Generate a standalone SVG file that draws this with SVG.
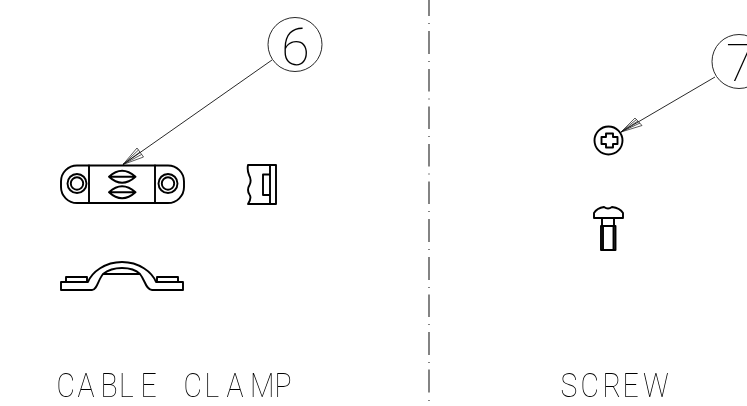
<svg xmlns="http://www.w3.org/2000/svg" width="747" height="406" viewBox="0 0 747 406">
<defs><filter id="gray" x="-5%" y="-20%" width="110%" height="140%" color-interpolation-filters="sRGB"><feOffset dx="0" dy="0"/></filter></defs>
<style>
.k{fill:none;stroke:#000;stroke-width:1.9;stroke-linejoin:round;stroke-linecap:round}
.t{fill:none;stroke:#111;stroke-width:.9}
.f{fill:none;stroke:#111;stroke-width:.7}
.d{fill:none;stroke:#333;stroke-width:1.2}
.l{font-family:Roboto,"Liberation Sans",sans-serif;font-weight:100;font-size:33.500px;fill:#000}
.n{font-family:Roboto,"Liberation Sans",sans-serif;font-weight:100;font-size:52px;fill:#000}
</style>
<rect width="747" height="406" fill="#fff"/>
<g id="connectors">
<path class="t" d="M272 60L123 164.500M715 77L621 132"/>
<path class="f" d="M123 164.500L137 148M123 164.500L138.500 150M123 164.500L140 152M123 164.500L141.500 154.500M123 164.500L143.500 157M621 132L635 118M621 132L636.500 119.500M621 132L638 121M621 132L640 123M621 132L642 125.500M137 148L143.500 157M635 118L642 125.500"/>
<path id="divider" class="d" d="M429 0V16M429 23V24M429 31V54M429 61V62M429 69V91.500M429 98.500V99.500M429 106.500V129M429 136V137M429 144V166.500M429 173.500V174.500M429 181.500V204M429 211V212M429 219V242M429 249V250M429 257V280M429 287V288M429 294.500V317M429 324V325M429 332V355M429 362V363M429 369.500V392.500M429 400V401"/>
</g>
<g id="clamp-top">
<rect class="k" x="61" y="165.500" width="123" height="37.500" rx="16"/>
<path class="k" d="M89 165.500V203M155 165.500V203"/>
<circle class="k" cx="77" cy="183.500" r="9.500"/><circle class="k" cx="77" cy="183.500" r="6.200"/>
<circle class="k" cx="168" cy="183.500" r="9.500"/><circle class="k" cx="168" cy="183.500" r="6.200"/>
<path class="k" d="M109 176.700Q122 164.700 135.500 176.700Q122 188.700 109 176.700ZM109 176.700H135.500M109 192.300Q122 180.300 135.500 192.300Q122 204.300 109 192.300ZM109 192.300H135.500"/>
</g>
<g id="clamp-side">
<path class="k" d="M248 165H276V204H248Q252 198 249.500 194.500Q246.500 190 249.500 185Q252 180 249 175Q247 170 248 165ZM270 165V204M263 174.500H270V195H263Z"/>
</g>
<g id="clamp-front">
<path class="k" d="M61 282H88C92 272 105 262 122 262C139 262 152 272 156 282H183V290H152C146 290 145 280 140 274C136 270 129 268 122 268C115 268 108 270 103 274C98 280 97 290 92 290H61ZM66 282V277H87V282M157 282V277H178V282M103 274H140"/>
</g>
<g id="screw-top">
<circle class="k" cx="608.500" cy="140.500" r="14"/>
<path class="k" d="M606 133.500H613V137H617.500V144H613V147.500H606V144H601.500V137H606Z"/>
</g>
<g id="screw-side">
<path class="k" d="M594 218V213Q597 208 604 207Q608 210 612 207Q620 208 623 213V218ZM602 218V226M614 218V226M601 226H615.500V250H601ZM603 226V250M613.500 226V250"/>
</g>
<g id="balloon-6"><circle class="t" cx="295" cy="44.500" r="27"/><text class="n" x="295.500" y="65" text-anchor="middle" filter="url(#gray)">6</text></g>
<g id="balloon-7"><circle class="t" cx="739" cy="61.500" r="27"/><text class="n" x="726" y="81" filter="url(#gray)">7</text></g>
<g id="label-clamp" filter="url(#gray)"><text class="l" transform="scale(.85 1)" x="66.500 91.200 118.200 140 165.300 190 215.900 240.600 266.500 294.100 323" y="397">CABLE CLAMP</text></g>
<g id="label-screw" filter="url(#gray)"><text class="l" transform="scale(.85 1)" x="659.400 683 708.800 732.400 756.500" y="397">SCREW</text></g>
</svg>
